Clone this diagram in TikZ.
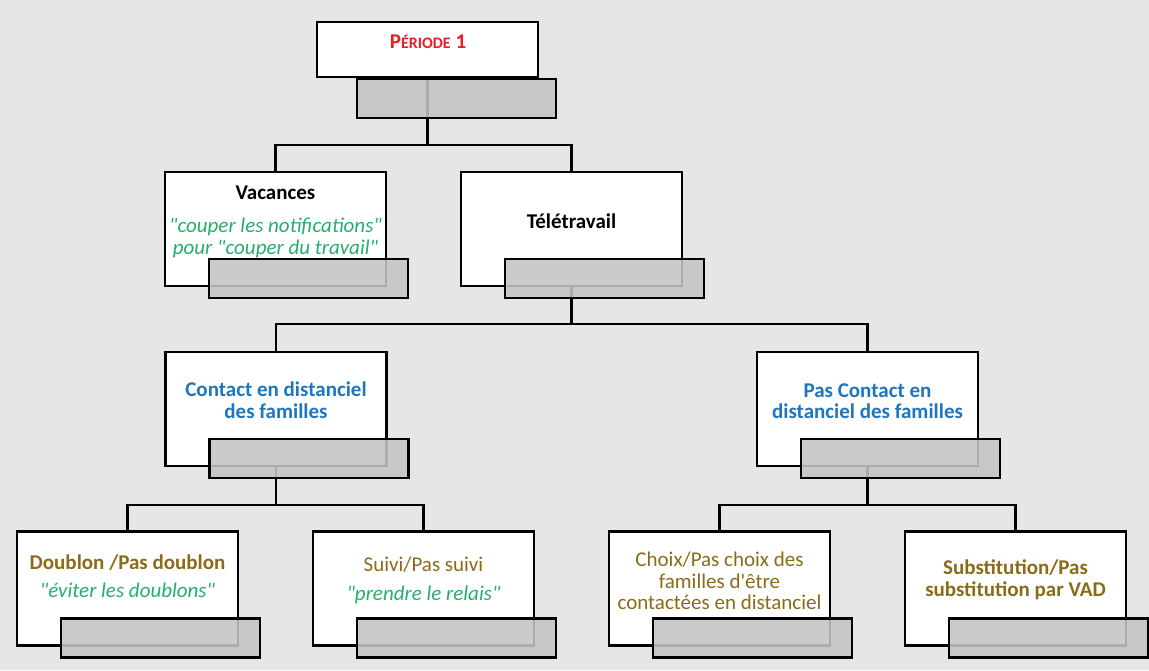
\documentclass[tikz,border=0pt]{standalone}
\usepackage{fontspec}
\newfontfamily\calibri{Carlito}
\usepackage{xcolor}
\usepackage{tikz}
\usetikzlibrary{calc,positioning}

\definecolor{bgpage}{RGB}{230,230,230}
\definecolor{perred}{RGB}{232,30,40}
\definecolor{famblue}{RGB}{30,117,192}
\definecolor{optolive}{RGB}{138,108,24}
\definecolor{quotegreen}{RGB}{36,176,108}
\definecolor{tabgray}{RGB}{196,196,196}

\begin{document}
\begin{tikzpicture}[x=1pt,y=-1pt,
  card/.style={draw,line width=2.6pt,fill=white,minimum width=221pt,minimum height=114pt,inner sep=0pt},
  tab/.style={draw,line width=2.6pt,fill=tabgray,fill opacity=0.88,minimum width=199pt,minimum height=39pt,inner sep=0pt},
  link/.style={line width=2.6pt},
  lbl/.style={align=center,inner sep=0pt,font=\calibri\fontsize{21}{21.5}\selectfont},
  lblb/.style={lbl,font=\calibri\fontsize{21}{21.5}\selectfont\bfseries},
  quote/.style={lbl,text=quotegreen,font=\calibri\fontsize{21}{21.5}\selectfont\itshape}]
  \useasboundingbox (0,0) rectangle (1149,670);
  \fill[bgpage] (0,0) rectangle (1149,670);

  \node[card,minimum height=55pt] (per) at (427.5,49.5) {};
  \node[card] (vac) at (275.5,229) {};
  \node[card] (tele) at (571.5,229) {};
  \node[card] (cont) at (276,409) {};
  \node[card] (pcont) at (867.5,409) {};
  \node[card] (doub) at (127.5,588.5) {};
  \node[card] (suivi) at (423.5,588.5) {};
  \node[card] (choix) at (719.5,588.5) {};
  \node[card] (subst) at (1015.5,588.5) {};

  \node[lblb,text=perred] (per-t) at (428,42) {P\fontsize{16}{16}\selectfont ÉRIODE\fontsize{21}{21}\selectfont{} 1};
  \node[lblb] (vac-t) at (275.5,193) {Vacances};
  \node[quote] (vac-q) at (275.5,238) {"couper les notifications"\\pour "couper du travail"};
  \node[lblb] (tele-t) at (571.5,221) {Télétravail};
  \node[lblb,text=famblue] (cont-t) at (276,400) {Contact en distanciel\\des familles};
  \node[lblb,text=famblue] (pcont-t) at (867.5,401) {Pas Contact en\\distanciel des familles};
  \node[lblb,text=optolive] (doub-t) at (127.5,563) {Doublon /Pas doublon};
  \node[quote] (doub-q) at (127.5,590) {"éviter les doublons"};
  \node[lbl,text=optolive] (suivi-t) at (423.5,565) {Suivi/Pas suivi};
  \node[quote] (suivi-q) at (423.5,595) {"prendre le relais"};
  \node[lbl,text=optolive] (choix-t) at (719.5,581) {Choix/Pas choix des\\familles d'être\\contactées en distanciel};
  \node[lblb,text=optolive] (subst-t) at (1015.5,580) {Substitution/Pas\\substitution par VAD};

  \coordinate (bus1) at (0,145);
  \coordinate (bus2) at (0,324);
  \coordinate (bus3) at (0,505);
  \draw[link] (per.south) -- (per.south |- bus1) -| (vac.north);
  \draw[link] (per.south |- bus1) -| (tele.north);
  \draw[link] (tele.south) -- (tele.south |- bus2) -| (cont.north);
  \draw[link] (tele.south |- bus2) -| (pcont.north);
  \draw[link] (cont.south) -- (cont.south |- bus3) -| (doub.north);
  \draw[link] (cont.south |- bus3) -| (suivi.north);
  \draw[link] (pcont.south) -- (pcont.south |- bus3) -| (choix.north);
  \draw[link] (pcont.south |- bus3) -| (subst.north);

  \node[tab] (per-g) at (456.5,98.5) {};
  \node[tab] (vac-g) at ($(vac)+(33,49.5)$) {};
  \node[tab] (tele-g) at ($(tele)+(33,49.5)$) {};
  \node[tab] (cont-g) at ($(cont)+(33,49.5)$) {};
  \node[tab] (pcont-g) at ($(pcont)+(33,49.5)$) {};
  \node[tab] (doub-g) at ($(doub)+(33,49.5)$) {};
  \node[tab] (suivi-g) at ($(suivi)+(33,49.5)$) {};
  \node[tab] (choix-g) at ($(choix)+(33,49.5)$) {};
  \node[tab] (subst-g) at ($(subst)+(33,49.5)$) {};
\end{tikzpicture}
\end{document}
